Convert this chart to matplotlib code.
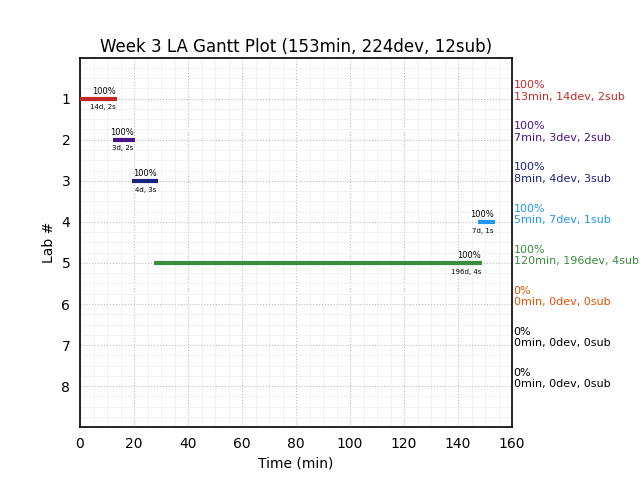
import matplotlib.pyplot as plt
from matplotlib.ticker import MultipleLocator

labs = [1, 2, 3, 4, 5, 6, 7, 8]
starts = [0, 12.2, 19.4, 147.5, 27.5]
ends = [13.7, 20.4, 28.9, 153.8, 149]
pcts = [100, 100, 100, 100, 100, 0, 0, 0]
mins = [13, 7, 8, 5, 120, 0, 0, 0]
devs = [14, 3, 4, 7, 196, 0, 0, 0]
subs = [2, 2, 3, 1, 4, 0, 0, 0]
colors = ['#c62828', '#4a148c', '#1a237e', '#2196f3', '#388e3c', '#e65100', 'black', 'black']

fig, ax = plt.subplots(figsize=(6.4, 4.8), dpi=100)
fig.subplots_adjust(left=0.125, right=0.8, top=0.88, bottom=0.11)

for i in range(len(starts)):
    y = labs[i]
    ax.plot([starts[i], ends[i]], [y, y], color=colors[i], lw=3, solid_capstyle='butt', zorder=3)
    ax.text(ends[i] - 0.5, y - 0.06, '%d%%' % pcts[i], fontsize=6, ha='right', va='bottom')
    ax.text(ends[i] - 0.5, y + 0.14, '%dd, %ds' % (devs[i], subs[i]), fontsize=5, ha='right', va='top')

for i in range(len(labs)):
    ax.text(160.6, labs[i] + 0.08, '%d%%\n%dmin, %ddev, %dsub' % (pcts[i], mins[i], devs[i], subs[i]),
            color=colors[i], fontsize=8, ha='left', va='bottom')

ax.set_xlim(0, 160)
ax.set_ylim(9, 0)
ax.set_yticks(labs)
ax.xaxis.set_major_locator(MultipleLocator(20))
ax.xaxis.set_minor_locator(MultipleLocator(5))
ax.yaxis.set_minor_locator(MultipleLocator(0.25))
ax.tick_params(which='both', length=0, pad=7)
ax.grid(which='major', color='#bbbbbb', linestyle=':', lw=0.8)
ax.grid(which='minor', color='#f0f0f0', linestyle='-', lw=0.6)
ax.set_axisbelow(True)
for s in ax.spines.values():
    s.set_linewidth(1.2)

ax.set_title('Week 3 LA Gantt Plot (153min, 224dev, 12sub)', pad=4)
ax.set_xlabel('Time (min)')
ax.set_ylabel('Lab #')
plt.savefig('out.png')
